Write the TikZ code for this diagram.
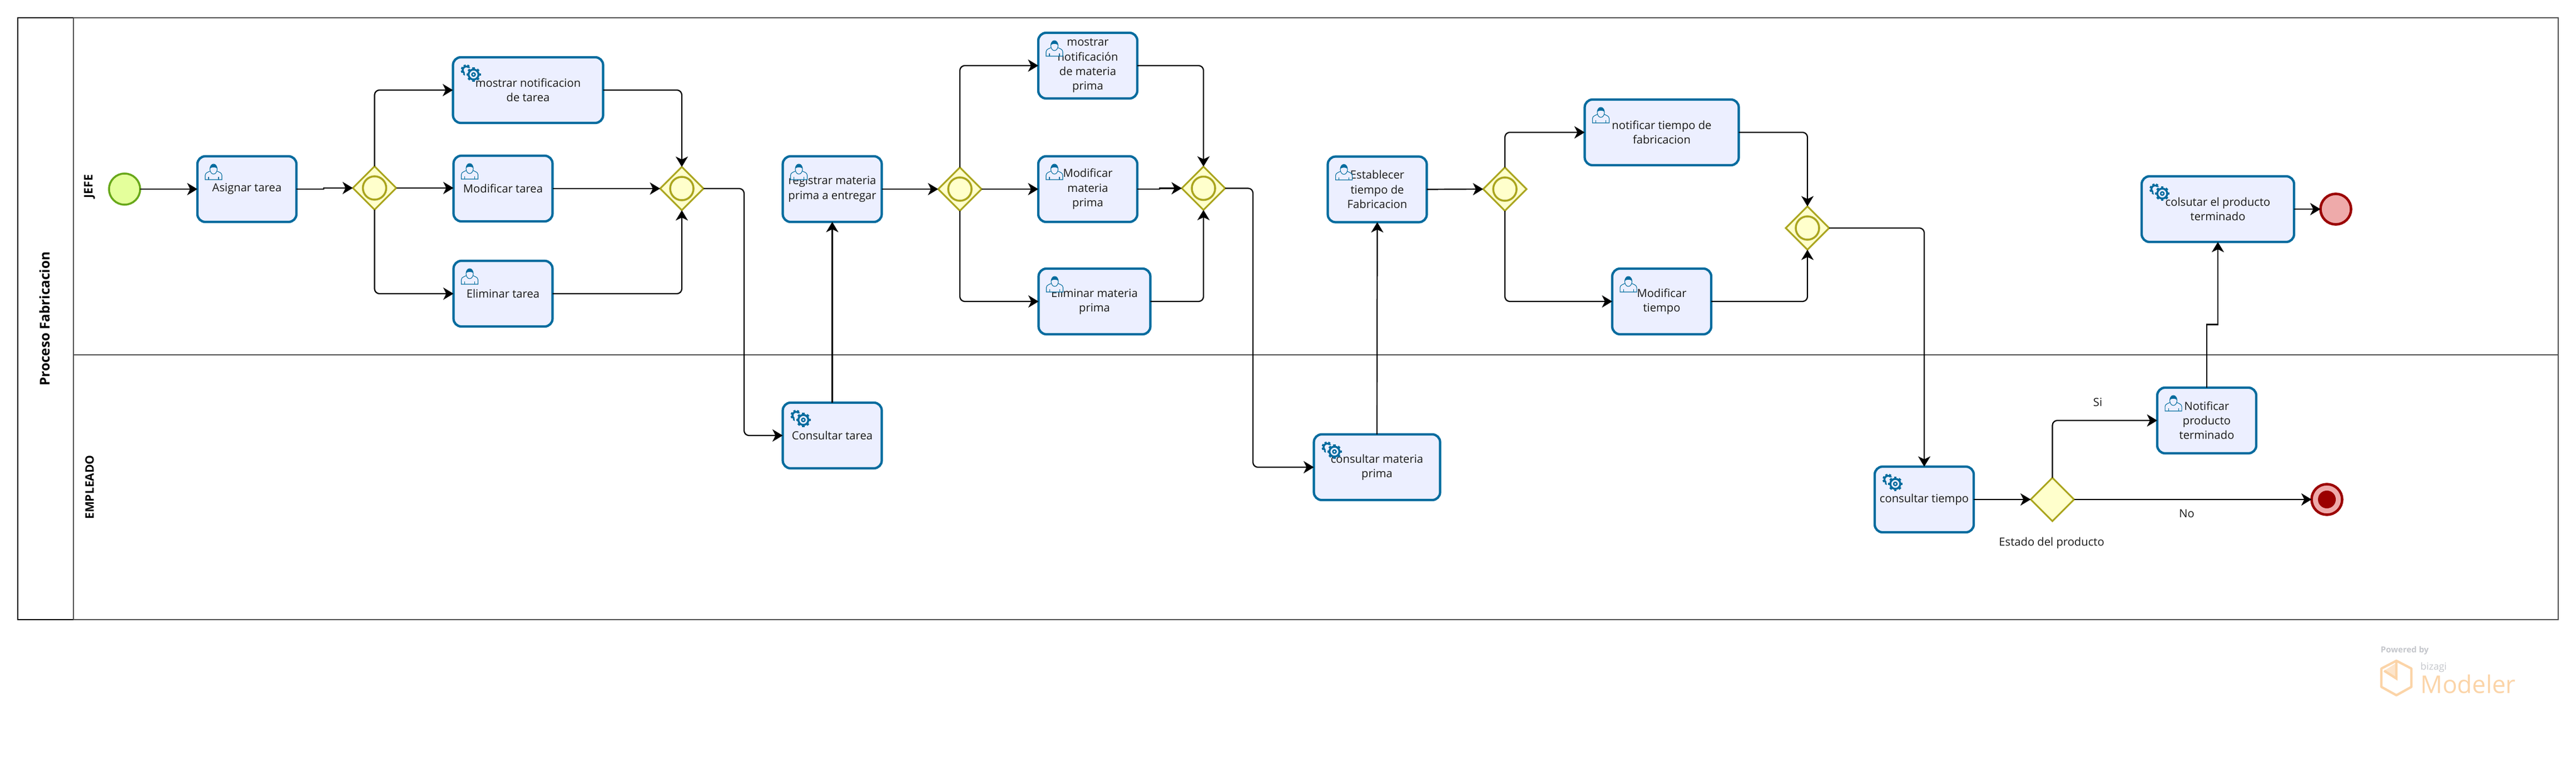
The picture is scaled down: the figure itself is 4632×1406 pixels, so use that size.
\documentclass[tikz,border=0pt]{standalone}
\usepackage{fontspec}
\setmainfont{Open Sans}
\usetikzlibrary{arrows.meta,shapes.geometric}
\definecolor{taskline}{RGB}{0,107,158}
\definecolor{taskfill}{RGB}{236,239,255}
\definecolor{gateline}{RGB}{170,165,30}
\definecolor{gatefill}{RGB}{255,255,204}
\definecolor{startline}{RGB}{104,168,26}
\definecolor{startfill}{RGB}{228,255,155}
\definecolor{endline}{RGB}{155,0,0}
\definecolor{endfill}{RGB}{238,170,170}
\definecolor{laneline}{RGB}{80,80,80}
\definecolor{markorange}{RGB}{251,212,168}
\definecolor{markgrey}{RGB}{196,198,203}
\tikzset{
  task/.style={draw=taskline,fill=taskfill,line width=2.4pt,rounded corners=8pt,outer sep=0pt,
    minimum height=118*0.02cm,minimum width=#1*0.02cm,align=center,text=black!90,
    font=\fontsize{11.5}{15}\selectfont},
  task/.default=178,
  gate/.style={diamond,draw=gateline,fill=gatefill,line width=1.7pt,inner sep=0pt,
    outer sep=0pt,minimum width=78*0.02cm,minimum height=78*0.02cm},
  gatering/.style={circle,draw=gateline,line width=2pt,inner sep=0pt,minimum size=42*0.02cm},
  start/.style={circle,draw=startline,fill=startfill,line width=2pt,inner sep=0pt,outer sep=0pt,
    minimum size=56*0.02cm},
  finish/.style={circle,draw=endline,fill=endfill,line width=2.6pt,inner sep=0pt,outer sep=0pt,
    minimum size=55*0.02cm},
  flow/.style={-{Stealth[length=10.5pt,width=12.5pt,inset=3pt]},line width=1.25pt,rounded corners=5pt},
  stepflow/.style={flow,sharp corners},
  lane/.style={draw=laneline,line width=1.15pt},
  lanetitle/.style={rotate=90,font=\bfseries\fontsize{12}{14}\selectfont},
  pooltitle/.style={rotate=90,font=\bfseries\fontsize{13.8}{16}\selectfont},
  note/.style={font=\fontsize{11.5}{15}\selectfont,text=black!90},
  usericon/.pic={
    \draw[taskline,line width=.6pt,fill=taskfill] (-15,14) -- (-15,6) .. controls (-15,1) and (-8,0) .. (-5,-2)
      -- (5,-2) .. controls (8,0) and (15,1) .. (15,6) -- (15,14) -- cycle;
    \draw[taskline,line width=.6pt] (-9,14) -- (-9,9) (9,14) -- (9,9);
    \draw[taskline,line width=.6pt,fill=taskfill] (0,-5) ellipse (6.5 and 9);
    \fill[taskline] (-6.5,-6) .. controls (-6,-16) and (6,-16) .. (6.5,-6) .. controls (3,-9) and (-3,-9) .. cycle;
  },
  gearicon/.pic={
    % small wheel behind, big wheel on top
    \foreach \a in {70,115,...,295} \draw[taskline,line width=2.2pt] (-8,-5)++(\a:6) -- ++(\a:4);
    \draw[taskline,line width=1.9pt] (-8,-5) circle (6.5);
    \fill[taskfill] (-2,0) circle (9);
    \foreach \a in {0,45,...,315} \draw[taskline,line width=2.6pt] (5,3)++(\a:8) -- ++(\a:5);
    \draw[taskline,line width=2pt,fill=taskfill] (5,3) circle (9);
    \draw[taskline,line width=1.4pt] (5,3) circle (3);
  },
}

\begin{document}
\begin{tikzpicture}[x=0.02cm,y=-0.02cm]
  \useasboundingbox (0,0) rectangle (4632,1406);

  % Pool and lanes
  \draw[lane] (132,32) rectangle (4600,1114);
  \draw[lane] (132,638) -- (4600,638);
  \draw[line width=1.15pt] (132,32) -- (32,32) -- (32,1114) -- (132,1114);
  \draw[lane] (132,32) -- (132,1114);
  \node[pooltitle] (proc) at (80,573) {Proceso Fabricacion};
  \node[lanetitle] (jefe) at (161,335) {JEFE};
  \node[lanetitle] (empl) at (161,876) {EMPLEADO};

  % Tasks, first lane
  \node[start] (ini) at (224,340) {};
  \node[task] (asig) at (444,340) {Asignar tarea};
  \node[gate] (gwa) at (673.5,338) {};
  \node[task=270] (most) at (949.5,162) {mostrar notificacion\\de tarea};
  \node[task] (modt) at (904.5,339) {Modificar tarea};
  \node[task] (elit) at (904.5,528) {Eliminar tarea};
  \node[gate] (gwb) at (1226,339) {};
  \node[task] (regi) at (1496.5,340) {registrar materia\\prima a entregar};
  \node[gate] (gwc) at (1726,340) {};
  \node[task] (mosm) at (1956,118) {mostrar\\notificación\\de materia\\prima};
  \node[task] (modm) at (1956,340) {Modificar\\materia\\prima};
  \node[task=201] (elim) at (1968,542) {Eliminar materia\\prima};
  \node[gate] (gwd) at (2164,338.5) {};
  \node[task] (esta) at (2476.5,340.5) {Establecer\\tiempo de\\Fabricacion};
  \node[gate] (gwe) at (2706,340) {};
  \node[task=277] (noti) at (2988,238) {notificar tiempo de\\fabricacion};
  \node[task] (modi) at (2988,542) {Modificar\\tiempo};
  \node[gate] (gwf) at (3250,410) {};
  \node[task=274] (cols) at (3988,376) {colsutar el producto\\terminado};
  \node[finish] (fina) at (4200,376) {};

  % Tasks, second lane
  \node[task] (cont) at (1496.5,783) {Consultar tarea};
  \node[task=227] (conm) at (2476,840) {consultar materia\\prima};
  \node[task] (cons) at (3460,898) {consultar tiempo};
  \node[gate] (gwg) at (3690.5,898) {};
  \node[task] (notp) at (3968,756) {Notificar\\producto\\terminado};
  \node[finish] (finb) at (4184,898) {};
  \node[circle,fill=endline,inner sep=0pt,minimum size=32*0.02cm] (finc) at (finb) {};
  \node[note] (esta2) at (3689,976) {Estado del producto};
  \node[note] (si) at (3772,723) {Si};
  \node[note] (no) at (3932,923) {No};

  % Inner rings and icons
  \foreach \g in {gwa,gwb,gwc,gwd,gwe,gwf}
    \node[gatering] at (\g) {};
  \foreach \t in {asig,modt,elit,regi,mosm,modm,elim,esta,noti,modi,notp}
    \pic at ([shift={(29,28)}]\t.north west) {usericon};
  \foreach \t in {most,cols,cont,conm,cons}
    \pic at ([shift={(32,28)}]\t.north west) {gearicon};

  % Flows
  \draw[flow] (ini) -- (asig);
  \draw[stepflow] (asig.east) -- ++(49,0) |- (gwa.west);
  \draw[flow] (gwa.north) |- (most.west);
  \draw[flow] (gwa.east) -- (gwa.east -| modt.west);
  \draw[flow] (gwa.south) |- (elit.west);
  \draw[flow] (most.east) -| (gwb.north);
  \draw[flow] (modt.east) -- (gwb.west);
  \draw[flow] (elit.east) -| (gwb.south);
  \draw[flow] (gwb.east) -- ++(73,0) |- (cont.west);
  \draw[flow] (cont.north) -- (regi.south);
  \draw[flow] (regi.east) -- (gwc.west);
  \draw[flow] (gwc.north) |- (mosm.west);
  \draw[flow] (gwc.east) -- (modm.west);
  \draw[flow] (gwc.south) |- (elim.west);
  \draw[flow] (mosm.east) -| (gwd.north);
  \draw[stepflow] (modm.east) -- ++(40,0) |- (gwd.west);
  \draw[flow] (elim.east) -| (gwd.south);
  \draw[flow] (gwd.east) -- ++(50,0) |- (conm.west);
  \draw[flow] (conm.north) -- (esta.south);
  \draw[flow] (esta.east) -- (gwe.west);
  \draw[flow] (gwe.north) |- (noti.west);
  \draw[flow] (gwe.south) |- (modi.west);
  \draw[flow] (noti.east) -| (gwf.north);
  \draw[flow] (modi.east) -| (gwf.south);
  \draw[flow] (gwf.east) -| (cons.north);
  \draw[flow] (cons.east) -- (gwg.west);
  \draw[flow] (gwg.north) |- (notp.west);
  \draw[flow] (gwg.east) -- (finb.west);
  \draw[stepflow] (notp.north) -- ++(0,-113.5) -| (cols.south);
  \draw[flow] (cols.east) -- (fina.west);

  % Watermark
  \node[text=markgrey,font=\bfseries\fontsize{8.5}{10}\selectfont] (powr) at (4324,1170) {Powered by};
  \node[text=markgrey,font=\fontsize{10}{11}\selectfont,anchor=west,inner sep=0pt] (bizg) at (4352,1200) {bizagi};
  \node[text=markorange,font=\fontsize{25}{27}\selectfont,anchor=base west,inner sep=0pt] (mdlr) at (4352,1246) {Modeler};
  \fill[markorange!60] (4309,1192) -- (4309,1220) -- (4287,1206) -- cycle;
  \draw[markorange,line width=2.4pt,line join=round] (4309,1188) -- (4336,1202) -- (4336,1235)
    -- (4309,1250) -- (4282,1235) -- (4282,1202) -- cycle;
  \draw[markorange,line width=2.4pt] (4287,1206) -- (4309,1220) -- (4309,1190);
\end{tikzpicture}
\end{document}
